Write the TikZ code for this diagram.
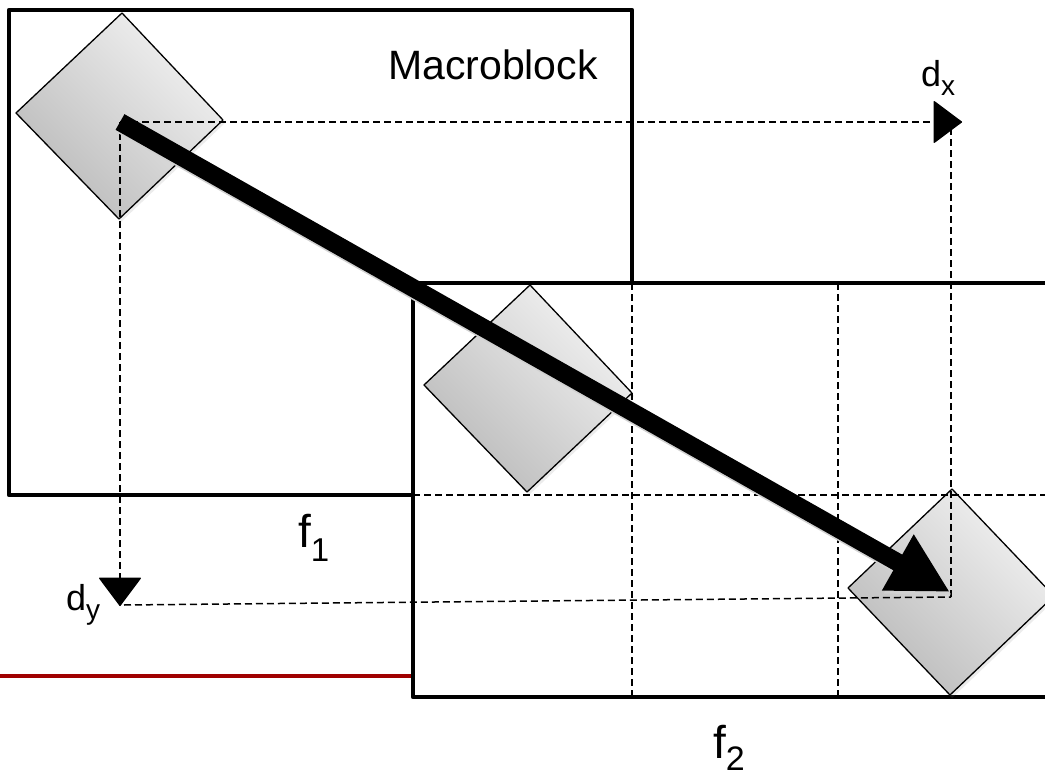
\documentclass[tikz,border=0pt]{standalone}
\usepackage{fontspec}
\setmainfont{Liberation Sans}
\usetikzlibrary{arrows.meta,shadows}
\begin{document}
\begin{tikzpicture}[x=1pt,y=-1pt,
  frame/.style={line width=4.5pt, line join=round},
  redline/.style={line width=4pt, draw={rgb,255:red,160;green,0;blue,0}},
  gridline/.style={line width=1.5pt, dash pattern=on 7pt off 4pt},
  blk/.style={draw=black, line width=1.3pt, line join=round, shading=axis,
    left color=black!27, right color=black!5, shading angle=135,
    drop shadow={opacity=0.15, shadow xshift=2pt, shadow yshift=-3pt}},
  mv/.style={line width=18pt, -{Triangle[length=60pt,width=60pt]}},
  dtip/.style={gridline, -{Triangle[length=29pt,width=43pt,round]}},
  lbl/.style={inner sep=0pt, anchor=base west}]
\useasboundingbox (0,0) rectangle (1045,776);
\begin{scope}
\clip (0,0) rectangle (1045,776);
% frames
\draw[frame] (9,10) rectangle (632,495);
\draw[redline] (0,676) -- (413,676);
\draw[frame, fill=white] (413,283) rectangle (1070,697);
% blocks
\path[blk] (122,13) -- (223,120) -- (119,219) -- (16,113) -- cycle;
\path[blk] (530,285) -- (632,393) -- (527,492) -- (424,385) -- cycle;
\path[blk] (952,489) -- (1054,596) -- (950,695) -- (848,588) -- cycle;
% coordinates
\coordinate (c1) at (120,122);
\coordinate (dx) at (962,122);
\coordinate (dy) at (120,606);
\coordinate (dyl) at (124,605);
\coordinate (dxv) at (951,128);
\coordinate (c3) at (951,597);
\coordinate (tip) at (950,592);
% grid continuation inside f2
\draw[gridline] (632,283) -- (632,697);
\draw[gridline] (838,283) -- (838,697);
\draw[gridline] (413,495) -- (1045,495);
% displacement lines
\draw[dtip] (c1) -- (dx);
\draw[dtip] (c1) -- (dy);
\draw[gridline] (dyl) -- (c3);
\draw[gridline] (dxv) -- (c3);
% motion vector
\draw[mv, black!18, transform canvas={xshift=2pt,yshift=-3pt}] (c1) -- (tip);
\draw[mv] (c1) -- (tip);
\end{scope}
% labels
\node[lbl] (mb) at (388,80) {\fontsize{41}{48}\selectfont Macroblock};
\node[lbl] (ldx) at (921,87) {\fontsize{36}{42}\selectfont d\raisebox{-9pt}{\fontsize{28}{32}\selectfont x}};
\node[lbl] (ldy) at (66,610) {\fontsize{36}{42}\selectfont d\raisebox{-9pt}{\fontsize{28}{32}\selectfont y}};
\node[lbl] (lf1) at (298,547) {\fontsize{46}{52}\selectfont f\raisebox{-14pt}{\fontsize{33}{38}\selectfont 1}};
\node[lbl] (lf2) at (713,758) {\fontsize{46}{52}\selectfont f\raisebox{-12pt}{\fontsize{34}{38}\selectfont 2}};
\end{tikzpicture}
\end{document}
